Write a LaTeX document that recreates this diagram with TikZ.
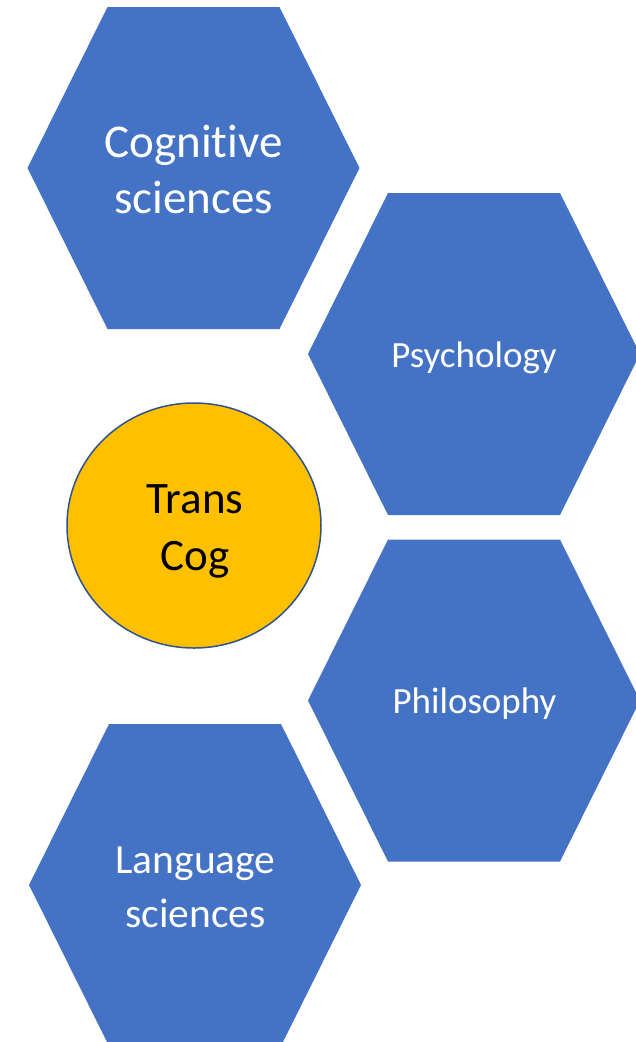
\documentclass[tikz,border=0pt]{standalone}
\usepackage{fontspec}
\setmainfont{Carlito}[Ligatures=CommonOff]
\definecolor{hexblue}{HTML}{4472C4}
\definecolor{gold}{HTML}{FFC000}
\definecolor{rim}{HTML}{2F528F}
\tikzset{
  hexshape/.style={fill=hexblue, draw=none},
  lbl/.style={anchor=base, inner sep=0pt, text=white},
  big/.style={font=\fontsize{47}{56}\selectfont},
  mid/.style={font=\fontsize{41.5}{54}\selectfont},
  small/.style={font=\fontsize{37}{44}\selectfont},
  core/.style={fill=gold, draw=rim, line width=1.5pt},
  corelbl/.style={anchor=base, inner sep=0pt, text=black, font=\fontsize{45}{56}\selectfont}
}
\newcommand{\hexpath}[2]{%
  \path[hexshape] (#1-166,#2) -- (#1-86,#2-161) -- (#1+86,#2-161) -- (#1+166,#2)
    -- (#1+86,#2+161) -- (#1-86,#2+161) -- cycle;}
\begin{document}
\begin{tikzpicture}[x=1pt,y=-1pt]
\useasboundingbox (0,0) rectangle (636,1042);
\clip (0,0) rectangle (636,1042);
\hexpath{193.5}{168}
\hexpath{474}{354}
\hexpath{474}{700.5}
\hexpath{195}{885}
\draw[core] (194,525.5) ellipse [x radius=127, y radius=122.5];
\node[lbl,big] (cog1) at (193.5,157) {Cognitive};
\node[lbl,big] (cog2) at (193.5,213) {sciences};
\node[lbl,small] (psy) at (474,367) {Psychology};
\node[lbl,small] (phil) at (474.5,713) {Philosophy};
\node[lbl,mid] (lang1) at (195.5,873) {Language};
\node[lbl,mid] (lang2) at (195.5,927) {sciences};
\node[corelbl] (tc1) at (195,513) {Trans};
\node[corelbl] (tc2) at (195,570) {Cog};
\end{tikzpicture}
\end{document}
